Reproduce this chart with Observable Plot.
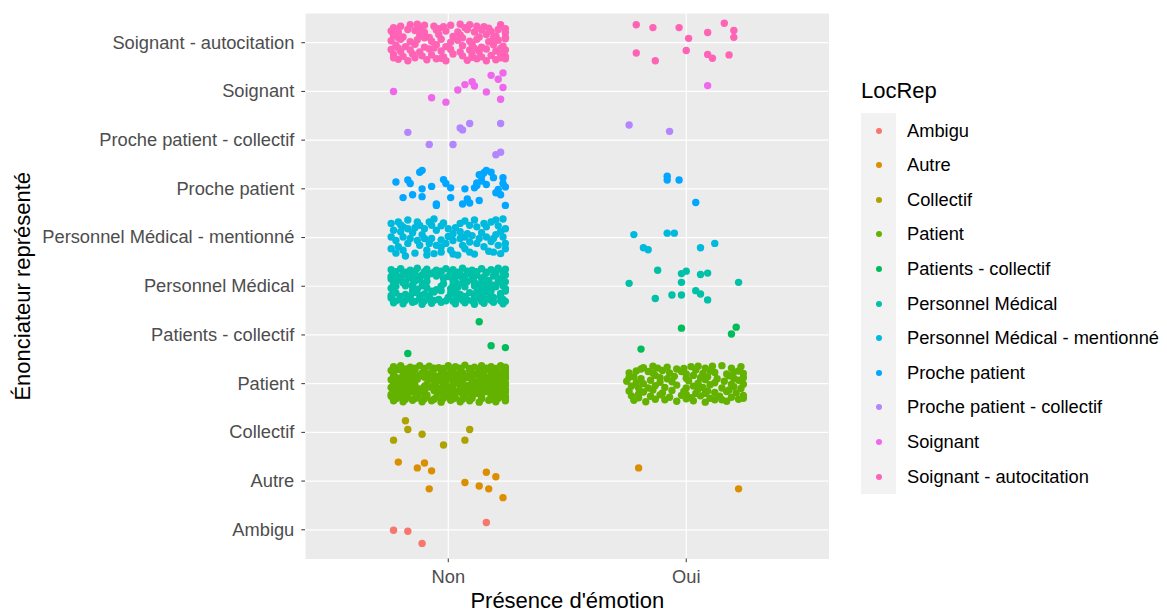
<!DOCTYPE html>
<html><head><meta charset="utf-8">
<script src="https://cdn.jsdelivr.net/npm/d3@7"></script>
<script src="https://cdn.jsdelivr.net/npm/@observablehq/plot@0.6"></script>
<style>
body{margin:0;background:#fff;font-family:"Liberation Sans",Arial,sans-serif;}
#wrap{position:relative;width:1167px;height:613px;overflow:hidden;}
#chart{position:absolute;left:0;top:0;}
#legend{position:absolute;left:861px;top:78px;}
.lt{font-size:22px;color:#000;height:35.4px;line-height:26px;}
.row{display:flex;align-items:center;height:34.6px;}
.key{width:35px;height:34.6px;background:#F2F2F2;display:flex;align-items:center;justify-content:center;}
.dot{width:6px;height:6px;border-radius:50%;}
.lab{margin-left:11px;font-size:18.3px;color:#000;white-space:nowrap;}
</style></head><body><div id="wrap"><div id="chart"></div><div id="legend"></div></div>
<script>
const categories = ["Ambigu","Autre","Collectif","Patient","Patients - collectif","Personnel Médical","Personnel Médical - mentionné","Proche patient","Proche patient - collectif","Soignant","Soignant - autocitation"];
const emotions = ["Non","Oui"];
const palette = ["#F8766D","#DB8E00","#AEA200","#64B200","#00BD5C","#00C1A7","#00BADE","#00A6FF","#B385FF","#EF67EB","#FF63B6"];

// jitter offsets, in hundredths of a category step: [dx, dy]
const ambiguNon = [[-23,-1],[-17,-3],[-11,-28],[16,15]];
const autreNon = [[-21,39],[-13,27],[-10,37],[-7,21],[-8,-16],[7,-3],[13,-10],[16,18],[20,9],[17,-16],[23,-34]];
const autreOui = [[-20,27],[22,-16]];
const collectifNon = [[-18,24],[-17,6],[-11,-4],[-23,-16],[-2,-26],[9,6],[7,-16]];
const patientNon = [
 [-23,35],[-20,37],[-16,34],[-12,37],[-8,36],[-4,33],[0,37],[3,35],[7,38],[11,34],[14,37],[18,35],[22,37],[24,34],
 [-24,27],[-21,29],[-17,26],[-14,28],[-10,25],[-6,29],[-2,27],[2,26],[5,29],[9,27],[13,25],[16,29],[20,27],[23,25],
 [-23,18],[-19,16],[-16,19],[-12,17],[-9,20],[-5,15],[-1,18],[4,19],[8,16],[12,19],[15,17],[19,20],[22,15],[24,18],
 [-24,8],[-20,11],[-17,6],[-13,9],[-8,10],[-4,7],[0,10],[3,6],[7,11],[10,8],[14,11],[17,6],[21,9],[24,10],
 [-23,0],[-20,-2],[-16,1],[-9,-1],[-5,2],[-1,-1],[3,1],[6,-2],[10,2],[16,-1],[19,1],[22,-2],[24,1],
 [-24,-8],[-20,-10],[-16,-7],[-12,-11],[-8,-7],[-4,-10],[0,-7],[5,-9],[8,-11],[12,-8],[15,-10],[19,-8],[23,-11],
 [-23,-17],[-19,-20],[-15,-16],[-11,-19],[-4,-17],[0,-20],[4,-16],[9,-18],[12,-20],[16,-16],[20,-19],[24,-17],
 [-24,-26],[-20,-28],[-17,-25],[-13,-29],[-9,-26],[-5,-28],[-1,-25],[3,-29],[7,-27],[10,-25],[14,-28],[18,-26],[21,-29],[24,-26],
 [-23,-35],[-19,-37],[-15,-34],[-11,-37],[-7,-35],[-3,-38],[1,-34],[5,-37],[9,-35],[13,-38],[17,-34],[20,-37],[24,-35],
 [-22,31],[-18,30],[-14,32],[-10,31],[-6,32],[-2,31],[1,30],[5,32],[9,31],[13,30],[16,32],[20,31],[24,30],
 [-23,22],[-19,23],[-15,21],[-11,22],[-7,23],[-3,21],[1,22],[6,23],[10,21],[14,22],[18,23],[21,21],[24,23],
 [-22,13],[-18,12],[-14,14],[-10,13],[-6,12],[-2,14],[2,12],[5,13],[9,12],[13,14],[17,13],[20,12],[24,14],
 [-22,4],[-18,3],[-15,5],[-6,4],[-2,3],[2,5],[5,4],[12,3],[15,5],[19,4],[23,3],
 [-23,-4],[-18,-5],[-14,-3],[-10,-5],[-6,-4],[-2,-5],[2,-3],[8,-4],[11,-5],[14,-3],[18,-4],[21,-5],[24,-4],
 [-22,-13],[-18,-14],[-14,-12],[-10,-13],[-6,-14],[-2,-12],[2,-13],[7,-14],[10,-13],[14,-12],[17,-14],[21,-13],[24,-12],
 [-24,-22],[-21,-23],[-17,-21],[-13,-22],[-9,-23],[-2,-22],[2,-23],[6,-21],[10,-22],[14,-23],[18,-21],[22,-22],
 [-22,-31],[-18,-32],[-14,-30],[-10,-31],[-6,-32],[-2,-30],[2,-31],[6,-32],[10,-30],[14,-31],[18,-32],[21,-30],[24,-31]];
const patientOui = [
 [-18,33],[-14,36],[-12,32],[-4,30],[-1,31],[2,35],[8,32],[11,36],[15,37],[23,35],[20,24],
 [-24,22],[-21,26],[-16,25],[-10,27],[-7,22],[-2,25],[4,28],[7,21],[12,23],[17,20],[22,26],[24,21],
 [-22,14],[-19,10],[-13,17],[-11,12],[-5,15],[0,11],[3,17],[9,14],[13,10],[18,16],[24,12],
 [-25,5],[-21,2],[-15,7],[-6,4],[1,6],[5,1],[8,8],[16,5],[22,7],[24,-1],
 [-23,-5],[-20,-9],[-13,-4],[-9,-8],[-4,-3],[0,-9],[3,-5],[7,-8],[10,-2],[15,-9],[20,-6],[23,-10],
 [-24,-15],[-18,-17],[-14,-13],[-10,-19],[-6,-14],[-1,-16],[4,-20],[9,-15],[12,-18],[18,-13],[21,-19],
 [-23,-25],[-20,-29],[-15,-26],[-11,-23],[-7,-28],[-2,-24],[2,-29],[6,-25],[10,-30],[14,-26],[19,-28],[24,-24],
 [-22,-34],[-17,-37],[-9,-33],[-4,-36],[3,-35],[8,-38],[12,-33],[17,-36],[22,-32],
 [-19,30],[-8,34],[5,36],[19,32],[-14,22],[0,20],[10,26],[-24,13],[-8,10],[6,12],[20,11],[-18,0],[-11,3],[12,2],
 [19,-1],[-16,-9],[5,-11],[17,-16],[-20,-21],[0,-22],[8,-20],[-13,-32],[0,-31],[15,-33],[24,-30]];
const patientsCollNon = [[13,27],[-17,-38],[18,-22],[24,-26]];
const patientsCollOui = [[-2,14],[21,16],[19,2],[-19,-29]];
const pmNon = [
 [-24,34],[-20,36],[-16,33],[-13,37],[-9,35],[-5,33],[-1,36],[2,34],[6,37],[10,33],[14,36],[18,34],[21,37],[24,35],
 [-23,26],[-19,24],[-15,27],[-11,23],[-7,26],[-3,24],[1,27],[5,23],[9,26],[12,24],[16,27],[20,25],[24,23],
 [-24,15],[-20,13],[-16,17],[-12,14],[-2,16],[2,12],[6,17],[10,14],[14,16],[17,12],[22,15],
 [-23,4],[-19,7],[-15,3],[-10,6],[-2,5],[2,3],[6,7],[13,4],[16,6],[19,2],[23,5],
 [-24,-4],[-13,-6],[-9,-3],[-5,-7],[1,-5],[4,-2],[14,-6],[17,-3],[24,-5],
 [-22,-14],[-18,-17],[-14,-13],[-10,-16],[-6,-12],[1,-14],[5,-17],[9,-13],[13,-16],[16,-12],[22,-15],
 [-24,-24],[-20,-27],[-16,-23],[-12,-26],[-8,-24],[-4,-27],[0,-23],[4,-25],[8,-28],[12,-24],[16,-26],[19,-23],[23,-27],
 [-23,-34],[-19,-36],[-15,-33],[-11,-37],[-7,-35],[-3,-33],[3,-36],[7,-34],[11,-37],[15,-35],[19,-33],[23,-36],
 [-22,30],[-18,29],[-14,31],[-10,30],[-6,29],[-3,31],[1,30],[4,29],[8,31],[12,30],[16,29],[20,31],[23,30],
 [-24,20],[-21,19],[-17,21],[-13,20],[-9,19],[-5,21],[0,20],[3,19],[7,21],[11,20],[15,19],[19,21],[23,19],
 [-22,10],[-18,9],[-14,11],[-9,10],[3,9],[8,10],[11,8],[15,11],[21,10],[24,9],
 [-22,0],[-18,1],[-15,-1],[-11,1],[-3,0],[3,1],[7,-1],[11,1],[16,0],[20,-1],[23,1],
 [-23,-10],[-15,-9],[-7,-10],[-3,-9],[3,-11],[12,-11],[18,-9],[24,-10],
 [-24,-19],[-20,-21],[-16,-20],[-12,-19],[-8,-21],[3,-19],[7,-21],[11,-20],[14,-19],[18,-20],[22,-21],
 [-22,-30],[-18,-29],[-14,-31],[-10,-30],[-6,-29],[-1,-30],[2,-31],[6,-29],[10,-30],[14,-31],[18,-29],[22,-30],[24,-31]];
const pmOui = [[-12,33],[-2,26],[0,31],[6,24],[9,27],[-24,6],[-2,8],[22,8],[4,-9],[6,-16],[9,-28],[-13,-25],[-6,-18],[-2,-18]];
const pmmNon = [
 [-24,29],[-23,15],[-21,32],[-19,22],[-17,36],[-13,32],[-10,18],[-6,38],[-7,25],[-5,15],[0,18],[2,8],[5,29],[8,8],
 [11,36],[12,22],[15,29],[18,32],[20,36],[23,38],[24,18],[-24,1],[-22,-6],[-19,1],[-16,-2],[-10,-2],[-7,-2],[-5,-16],
 [-1,-12],[2,-6],[5,-2],[7,1],[9,-9],[12,-12],[16,1],[19,-2],[23,1],[24,-12],[24,-23],[-24,-23],[-21,-19],[-19,-26],
 [-18,-38],[-12,-16],[-9,-26],[-6,-33],[-3,-30],[1,-26],[4,-36],[7,-23],[9,-30],[15,-19],[21,-16],
 [-15,10],[-11,6],[-2,30],[3,20],[9,25],[14,10],[21,24],[-20,12],[18,-8],[-8,-12],[-14,-32],[11,-34],[17,-28],
 [22,-33],[-3,-20],[0,2],[5,12],[-12,25],[-17,18],[13,-2],[-22,-32],
 [-20,26],[-14,20],[-8,32],[-3,24],[7,34],[16,22],[22,12],[-13,-6],[-3,-5],[10,4],[20,6],[-17,-12],[6,-16],[19,-30],[-9,-36],[2,-34]];
const pmmOui = [[-22,6],[-8,9],[-5,9],[-18,-21],[-16,-25],[6,-21],[12,-12]];
const procheNon = [[-12,34],[-11,38],[-22,14],[-17,18],[-16,11],[-11,0],[-7,5],[-2,19],[-1,11],[1,2],[-19,-18],[-15,-12],
 [-11,-16],[-5,-31],[1,-18],[7,0],[6,-31],[8,-21],[9,-29],[13,-24],[11,2],[12,12],[14,26],[15,33],[16,38],[18,34],
 [14,16],[16,9],[12,7],[19,23],[23,23],[23,11],[24,4],[21,-1],[20,-8],[22,-12],[24,-34],[13,29],[-5,-34]];
const procheOui = [[-8,26],[-8,18],[-3,18],[4,-28]];
const ppcNon = [[-17,16],[-8,-9],[2,-9],[5,25],[6,21],[9,34],[22,34],[20,-30],[22,-25]];
const ppcOui = [[-24,31],[-7,18]];
const soignantNon = [[-23,0],[-7,-13],[-1,-22],[4,3],[7,14],[10,20],[11,11],[16,-1],[18,33],[21,25],[23,38],[23,8],[22,-16]];
const soignantOui = [[9,12]];
const saNon = [
 [-23,31],[-20,34],[-16,37],[-13,38],[-10,36],[-6,34],[-2,33],[1,36],[5,38],[9,37],[12,34],[15,33],[22,37],
 [-24,24],[-21,22],[-17,27],[-14,25],[-10,21],[-5,26],[-1,24],[4,22],[8,27],[11,22],[14,26],[18,23],[21,27],[24,21],
 [-23,15],[-19,12],[-12,16],[-8,11],[-4,17],[2,13],[5,16],[13,12],[16,17],[20,14],[24,11],
 [-24,4],[-20,7],[-16,2],[-13,6],[-7,3],[-3,7],[1,1],[4,5],[9,3],[12,7],[17,2],[21,5],[24,8],
 [-22,-5],[-18,-8],[-14,-3],[-10,-9],[-5,-4],[-1,-8],[6,-6],[10,-3],[14,-9],[19,-4],[23,-7],
 [-24,-14],[-20,-18],[-16,-15],[-12,-19],[-8,-13],[-3,-17],[1,-14],[5,-19],[9,-15],[13,-18],[16,-13],[20,-17],[24,-15],
 [-23,-24],[-19,-28],[-15,-23],[-11,-27],[-7,-25],[-2,-29],[2,-23],[6,-27],[10,-24],[14,-29],[18,-26],[22,-23],[24,-28],
 [-21,-34],[-17,-37],[-9,-35],[-5,-33],[-1,-37],[8,-36],[12,-33],[16,-37],[20,-35],[24,-33],
 [-22,28],[-12,29],[-4,29],[7,31],[17,30],[24,29],
 [-21,10],[-10,10],[6,10],[19,10],
 [-21,-11],[-6,-11],[11,-12],[22,-12],
 [-23,-31],[-14,-31],[-3,-32],[10,-30],[22,-31]];
const saOui = [[-21,37],[-14,31],[-3,31],[16,40],[20,25],[20,11],[1,9],[9,21],[-21,-21],[-13,-37],[0,-16],[9,-24],[11,-32],[18,-25]];

const groups = [
 ["Ambigu","Non",ambiguNon],["Autre","Non",autreNon],["Autre","Oui",autreOui],["Collectif","Non",collectifNon],
 ["Patient","Non",patientNon],["Patient","Oui",patientOui],["Patients - collectif","Non",patientsCollNon],["Patients - collectif","Oui",patientsCollOui],
 ["Personnel Médical","Non",pmNon],["Personnel Médical","Oui",pmOui],["Personnel Médical - mentionné","Non",pmmNon],["Personnel Médical - mentionné","Oui",pmmOui],
 ["Proche patient","Non",procheNon],["Proche patient","Oui",procheOui],["Proche patient - collectif","Non",ppcNon],["Proche patient - collectif","Oui",ppcOui],
 ["Soignant","Non",soignantNon],["Soignant","Oui",soignantOui],["Soignant - autocitation","Non",saNon],["Soignant - autocitation","Oui",saOui]
];
const pts = [];
for (const [cat, emo, arr] of groups) for (const [dx, dy] of arr)
  pts.push({cat, x: emotions.indexOf(emo) + dx / 100, y: categories.indexOf(cat) + dy / 100});

const catIdx = d3.range(categories.length);
const chart = Plot.plot({
  width: 840, height: 613,
  marginLeft: 305, marginRight: 11.5, marginTop: 13, marginBottom: 54.5,
  style: {fontFamily: "Liberation Sans, Arial, sans-serif", background: "transparent", overflow: "visible"},
  x: {domain: [-0.6, 1.6]},
  y: {domain: [-0.6, 10.6]},
  color: {domain: categories, range: palette},
  marks: [
    Plot.frame({fill: "#EBEBEB", stroke: null}),
    Plot.gridX({ticks: [0, 1], stroke: "#fff", strokeOpacity: 1, strokeWidth: 1.2}),
    Plot.gridY({ticks: catIdx, stroke: "#fff", strokeOpacity: 1, strokeWidth: 1.2}),
    Plot.dot(pts, {x: "x", y: "y", fill: "cat", r: 3.7}),
    Plot.axisX({ticks: [0, 1], tickFormat: i => emotions[i], tickSize: 3.7, tickPadding: 7, stroke: "#333", fill: "#4D4D4D", fontSize: 18.3, label: null}),
    Plot.axisY({ticks: catIdx, tickFormat: i => categories[i], tickSize: 3.7, tickPadding: 7.5, stroke: "#333", fill: "#4D4D4D", fontSize: 18.3, label: null}),
    Plot.text(["Présence d'émotion"], {frameAnchor: "bottom", dy: 49, fontSize: 22, fill: "#000", textAnchor: "middle"}),
    Plot.text(["Énonciateur représenté"], {frameAnchor: "left", dx: -283, rotate: -90, fontSize: 22, fill: "#000", textAnchor: "middle"})
  ]
});
document.getElementById("chart").appendChild(chart);

const legend = document.getElementById("legend");
const t = document.createElement("div"); t.className = "lt"; t.textContent = "LocRep"; legend.appendChild(t);
categories.forEach((c, i) => {
  const row = document.createElement("div"); row.className = "row";
  const key = document.createElement("div"); key.className = "key";
  const dot = document.createElement("div"); dot.className = "dot"; dot.style.background = palette[i];
  key.appendChild(dot);
  const lab = document.createElement("div"); lab.className = "lab"; lab.textContent = c;
  row.appendChild(key); row.appendChild(lab); legend.appendChild(row);
});
</script></body></html>
